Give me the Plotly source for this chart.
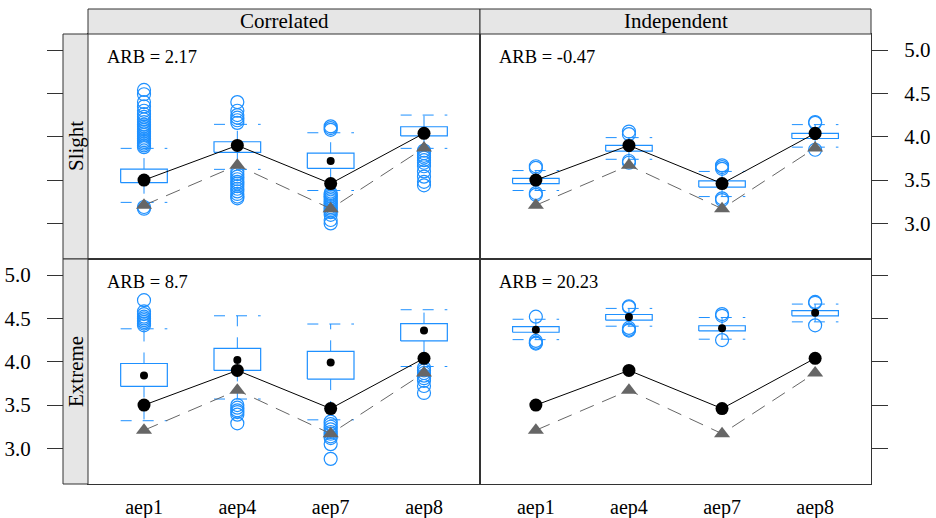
import plotly.graph_objects as go

W, H = 936, 518

categories = ["aep1", "aep4", "aep7", "aep8"]
col_labels = ["Correlated", "Independent"]
row_labels = ["Slight", "Extreme"]
y_ticks = [3.0, 3.5, 4.0, 4.5, 5.0]

# reference values (black dots) and gray triangles, common to all panels
true_vals = [3.50, 3.90, 3.46, 4.04]
tri_vals = [3.21, 3.67, 3.17, 3.87]

# ARB labels per panel: (Correlated,Slight), (Independent,Slight), (Correlated,Extreme), (Independent,Extreme)
arb_cs, arb_is, arb_ce, arb_ie = "2.17", "-0.47", "8.7", "20.23"

# Correlated / Slight
q1_cs = [3.47, 3.82, 3.636, 4.01]
q3_cs = [3.627, 3.942, 3.81, 4.115]
med_cs = [3.52, 3.90, 3.72, 4.05]
lo_cs = [3.243, 3.624, 3.38, 3.866]
hi_cs = [3.866, 4.143, 4.046, 4.25]
out_cs = [
    [4.54, 4.49, 4.40, 4.35, 4.30, 4.26, 4.23, 4.20, 4.17, 4.14, 4.12, 4.10, 4.08,
     4.06, 4.04, 4.02, 4.00, 3.98, 3.96, 3.94, 3.92, 3.90, 3.88, 3.19, 3.17],
    [4.40, 4.30, 4.25, 4.22, 4.19, 4.16, 3.60, 3.57, 3.54, 3.51, 3.48, 3.46, 3.43,
     3.40, 3.37, 3.34, 3.31, 3.29],
    [4.12, 4.10, 4.08, 3.35, 3.33, 3.31, 3.29, 3.27, 3.25, 3.23, 3.21, 3.19, 3.17,
     3.15, 3.13, 3.10, 3.04, 3.00],
    [3.84, 3.81, 3.78, 3.76, 3.73, 3.70, 3.66, 3.60, 3.54, 3.48, 3.44],
]

# Independent / Slight
q1_is = [3.46, 3.835, 3.42, 3.98]
q3_is = [3.52, 3.90, 3.49, 4.04]
med_is = [3.49, 3.87, 3.455, 4.01]
lo_is = [3.38, 3.74, 3.31, 3.88]
hi_is = [3.61, 3.99, 3.60, 4.14]
out_is = [
    [3.66, 3.64, 3.35, 3.33],
    [4.06, 4.03, 3.72, 3.70],
    [3.67, 3.65, 3.63, 3.29, 3.27],
    [4.17, 4.16, 3.85],
]

# Correlated / Extreme
q1_ce = [3.715, 3.90, 3.80, 4.24]
q3_ce = [3.98, 4.155, 4.12, 4.44]
med_ce = [3.84, 4.02, 3.99, 4.36]
lo_ce = [3.32, 3.57, 3.33, 3.945]
hi_ce = [4.38, 4.53, 4.435, 4.60]
out_ce = [
    [4.71, 4.58, 4.55, 4.52, 4.50, 4.48, 4.46, 4.44, 4.42],
    [3.50, 3.47, 3.44, 3.42, 3.39, 3.29],
    [3.31, 3.28, 3.25, 3.22, 3.19, 3.17, 3.14, 3.12, 3.05, 2.88],
    [3.93, 3.90, 3.87, 3.84, 3.81, 3.78, 3.72, 3.64],
]

# Independent / Extreme
q1_ie = [4.34, 4.48, 4.355, 4.53]
q3_ie = [4.405, 4.545, 4.415, 4.59]
med_ie = [4.37, 4.515, 4.385, 4.565]
lo_ie = [4.255, 4.41, 4.26, 4.46]
hi_ie = [4.49, 4.615, 4.51, 4.665]
out_ie = [
    [4.52, 4.24, 4.22, 4.21],
    [4.64, 4.63, 4.39, 4.37, 4.36],
    [4.55, 4.53, 4.25],
    [4.69, 4.68, 4.42],
]

BLUE = "#1E90FF"
GRAY = "#666666"
FRAME = "#333333"
FONT = "Liberation Serif"
Y_RANGE = [2.59, 5.185]
X_RANGE = [0.4, 4.6]
HALF = 0.25

# geometry (pixels)
px_l, px_mid, px_r = 88, 480, 871
py_top, py_mid, py_bot = 34, 259, 484
strip_top = 9
lstrip_l = 63

def fx(p):
    return p / W

def fy(p):
    return 1 - p / H

panels = [
    # (xaxis, yaxis, q1, q3, med, lo, hi, out, arb)
    ("x", "y", q1_cs, q3_cs, med_cs, lo_cs, hi_cs, out_cs, arb_cs),
    ("x2", "y2", q1_is, q3_is, med_is, lo_is, hi_is, out_is, arb_is),
    ("x3", "y3", q1_ce, q3_ce, med_ce, lo_ce, hi_ce, out_ce, arb_ce),
    ("x4", "y4", q1_ie, q3_ie, med_ie, lo_ie, hi_ie, out_ie, arb_ie),
]

fig = go.Figure()
xpos = list(range(1, len(categories) + 1))

for xa, ya, q1, q3, med, lo, hi, out, arb in panels:
    bx, by = [], []
    wx, wy = [], []
    ox, oy = [], []
    for i, c in enumerate(xpos):
        bx += [c - HALF, c + HALF, c + HALF, c - HALF, c - HALF, None]
        by += [q1[i], q1[i], q3[i], q3[i], q1[i], None]
        # whiskers (from box outward) and caps
        wx += [c, c, None, c - HALF, c + HALF, None, c, c, None, c - HALF, c + HALF, None]
        wy += [q3[i], hi[i], None, hi[i], hi[i], None, q1[i], lo[i], None, lo[i], lo[i], None]
        ox += [c] * len(out[i])
        oy += out[i]
    common = dict(xaxis=xa, yaxis=ya, showlegend=False, hoverinfo="skip")
    fig.add_trace(go.Scatter(x=wx, y=wy, mode="lines",
                             line=dict(color=BLUE, width=1, dash="11px,11px"), **common))
    fig.add_trace(go.Scatter(x=bx, y=by, mode="lines",
                             line=dict(color=BLUE, width=1.2), **common))
    fig.add_trace(go.Scatter(x=ox, y=oy, mode="markers",
                             marker=dict(symbol="circle-open", size=13, color=BLUE,
                                         line=dict(width=1.2, color=BLUE)), **common))
    fig.add_trace(go.Scatter(x=xpos, y=med, mode="markers",
                             marker=dict(symbol="circle", size=8, color="black"), **common))
    fig.add_trace(go.Scatter(x=xpos, y=tri_vals, mode="lines+markers",
                             line=dict(color=GRAY, width=1, dash="15px,9px"),
                             marker=dict(symbol="triangle-up", size=14, color=GRAY), **common))
    fig.add_trace(go.Scatter(x=xpos, y=true_vals, mode="lines+markers",
                             line=dict(color="black", width=1),
                             marker=dict(symbol="circle", size=13, color="black"), **common))
    fig.add_annotation(x=0.043, y=0.898, xref=xa + " domain", yref=ya + " domain",
                       text="ARB = " + arb, showarrow=False, xanchor="left", yanchor="middle",
                       font=dict(family=FONT, size=18.5, color="black"))

# dummy traces for the tick-only overlay axes
for xa, ya in [("x", "y5"), ("x", "y6"), ("x3", "y7"), ("x3", "y8")]:
    fig.add_trace(go.Scatter(x=[2.5], y=[4.0], xaxis=xa, yaxis=ya, mode="markers",
                             marker=dict(opacity=0), showlegend=False, hoverinfo="skip"))

tickfont = dict(family=FONT, size=21, color="black")
xtickfont = dict(family=FONT, size=20, color="black")
col_dom = [[fx(px_l), fx(px_mid)], [fx(px_mid), fx(px_r)]]
row_dom = [[fy(py_mid), fy(py_top)], [fy(py_bot), fy(py_mid)]]

def xax(dom, anchor, labels):
    return dict(domain=dom, anchor=anchor, range=X_RANGE, showgrid=False, zeroline=False,
                showline=True, mirror=True, linecolor=FRAME, linewidth=1, automargin=False,
                tickvals=xpos, ticktext=categories, ticks="", showticklabels=labels,
                tickfont=xtickfont, ticklabelstandoff=5)

def yax(dom, anchor):
    return dict(domain=dom, anchor=anchor, range=Y_RANGE, showgrid=False, zeroline=False,
                showline=True, mirror=True, linecolor=FRAME, linewidth=1, automargin=False,
                ticks="", showticklabels=False)

def ytick(over, pos, side, labels, standoff):
    return dict(overlaying=over, anchor="free", position=pos, side=side, range=Y_RANGE,
                showgrid=False, zeroline=False, showline=False, tickvals=y_ticks,
                automargin=False,
                tickformat=".1f", ticks="outside", ticklen=16, tickwidth=1, tickcolor=FRAME,
                showticklabels=labels, tickfont=tickfont, ticklabelstandoff=standoff)

fig.update_layout(
    width=W, height=H, autosize=False, margin=dict(l=0, r=0, t=0, b=0, autoexpand=False),
    paper_bgcolor="white", plot_bgcolor="white",
    xaxis=xax(col_dom[0], "y", False),
    xaxis2=xax(col_dom[1], "y2", False),
    xaxis3=xax(col_dom[0], "y3", True),
    xaxis4=xax(col_dom[1], "y4", True),
    yaxis=yax(row_dom[0], "x"),
    yaxis2=yax(row_dom[0], "x2"),
    yaxis3=yax(row_dom[1], "x3"),
    yaxis4=yax(row_dom[1], "x4"),
    yaxis5=ytick("y", fx(lstrip_l), "left", False, 12),
    yaxis6=ytick("y", fx(px_r), "right", True, 12),
    yaxis7=ytick("y3", fx(lstrip_l), "left", True, 12),
    yaxis8=ytick("y3", fx(px_r), "right", False, 12),
)

STRIP = "#E6E6E6"
shapes = [
    dict(type="rect", xref="paper", yref="paper", x0=fx(px_l), x1=fx(px_mid),
         y0=fy(py_top), y1=fy(strip_top), fillcolor=STRIP, line=dict(color=FRAME, width=1)),
    dict(type="rect", xref="paper", yref="paper", x0=fx(px_mid), x1=fx(px_r),
         y0=fy(py_top), y1=fy(strip_top), fillcolor=STRIP, line=dict(color=FRAME, width=1)),
    dict(type="rect", xref="paper", yref="paper", x0=fx(lstrip_l), x1=fx(px_l),
         y0=fy(py_mid), y1=fy(py_top), fillcolor=STRIP, line=dict(color=FRAME, width=1)),
    dict(type="rect", xref="paper", yref="paper", x0=fx(lstrip_l), x1=fx(px_l),
         y0=fy(py_bot), y1=fy(py_mid), fillcolor=STRIP, line=dict(color=FRAME, width=1)),
]
fig.update_layout(shapes=shapes)

stripfont = dict(family=FONT, size=21, color="black")
strip_kw = dict(xref="paper", yref="paper", showarrow=False, font=stripfont,
                xanchor="center", yanchor="middle")
fig.add_annotation(x=fx((px_l + px_mid) / 2), y=fy((strip_top + py_top) / 2),
                   text=col_labels[0], **strip_kw)
fig.add_annotation(x=fx((px_mid + px_r) / 2), y=fy((strip_top + py_top) / 2),
                   text=col_labels[1], **strip_kw)
fig.add_annotation(x=fx((lstrip_l + px_l) / 2), y=fy((py_top + py_mid) / 2),
                   text=row_labels[0], textangle=-90, **strip_kw)
fig.add_annotation(x=fx((lstrip_l + px_l) / 2), y=fy((py_mid + py_bot) / 2),
                   text=row_labels[1], textangle=-90, **strip_kw)

fig.write_html("out.html",
               config={"responsive": False, "displayModeBar": False},
               post_script="document.body.style.margin='0';document.body.style.overflow='hidden';")
